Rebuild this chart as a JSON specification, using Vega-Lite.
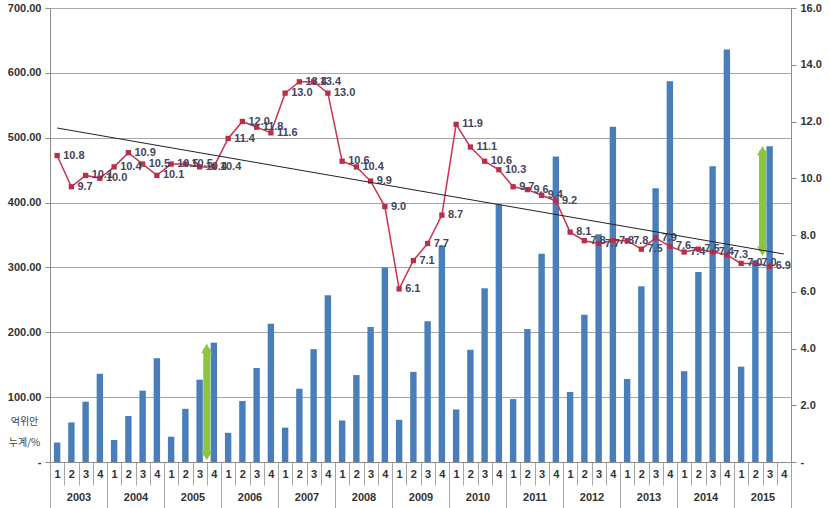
{
  "$schema": "https://vega.github.io/schema/vega-lite/v6.json",
  "width": 741,
  "height": 454,
  "autosize": {"type": "none"},
  "padding": {"left": 50, "top": 8, "right": 39, "bottom": 46},
  "background": "white",
  "config": {
    "view": {"stroke": null},
    "axis": {"labelFont": "Liberation Sans", "labelFontWeight": "bold", "labelFontSize": 11, "labelColor": "#333333", "domainColor": "#8c8c8c", "tickColor": "#8c8c8c", "gridColor": "#a6a6a6"}
  },
  "datasets": {
    "main": [
      {"q": "2003-1", "year": 2003, "amount": 30, "pct": 10.8},
      {"q": "2003-2", "year": 2003, "amount": 61, "pct": 9.7},
      {"q": "2003-3", "year": 2003, "amount": 93, "pct": 10.1},
      {"q": "2003-4", "year": 2003, "amount": 136, "pct": 10.0},
      {"q": "2004-1", "year": 2004, "amount": 34, "pct": 10.4},
      {"q": "2004-2", "year": 2004, "amount": 71, "pct": 10.9},
      {"q": "2004-3", "year": 2004, "amount": 110, "pct": 10.5},
      {"q": "2004-4", "year": 2004, "amount": 160, "pct": 10.1},
      {"q": "2005-1", "year": 2005, "amount": 39, "pct": 10.5},
      {"q": "2005-2", "year": 2005, "amount": 82, "pct": 10.5},
      {"q": "2005-3", "year": 2005, "amount": 127, "pct": 10.4},
      {"q": "2005-4", "year": 2005, "amount": 184, "pct": 10.4},
      {"q": "2006-1", "year": 2006, "amount": 45, "pct": 11.4},
      {"q": "2006-2", "year": 2006, "amount": 94, "pct": 12.0},
      {"q": "2006-3", "year": 2006, "amount": 145, "pct": 11.8},
      {"q": "2006-4", "year": 2006, "amount": 213, "pct": 11.6},
      {"q": "2007-1", "year": 2007, "amount": 53, "pct": 13.0},
      {"q": "2007-2", "year": 2007, "amount": 113, "pct": 13.4},
      {"q": "2007-3", "year": 2007, "amount": 174, "pct": 13.4},
      {"q": "2007-4", "year": 2007, "amount": 257, "pct": 13.0},
      {"q": "2008-1", "year": 2008, "amount": 64, "pct": 10.6},
      {"q": "2008-2", "year": 2008, "amount": 134, "pct": 10.4},
      {"q": "2008-3", "year": 2008, "amount": 208, "pct": 9.9},
      {"q": "2008-4", "year": 2008, "amount": 300, "pct": 9.0},
      {"q": "2009-1", "year": 2009, "amount": 65, "pct": 6.1},
      {"q": "2009-2", "year": 2009, "amount": 139, "pct": 7.1},
      {"q": "2009-3", "year": 2009, "amount": 217, "pct": 7.7},
      {"q": "2009-4", "year": 2009, "amount": 334, "pct": 8.7},
      {"q": "2010-1", "year": 2010, "amount": 81, "pct": 11.9},
      {"q": "2010-2", "year": 2010, "amount": 173, "pct": 11.1},
      {"q": "2010-3", "year": 2010, "amount": 268, "pct": 10.6},
      {"q": "2010-4", "year": 2010, "amount": 397, "pct": 10.3},
      {"q": "2011-1", "year": 2011, "amount": 97, "pct": 9.7},
      {"q": "2011-2", "year": 2011, "amount": 205, "pct": 9.6},
      {"q": "2011-3", "year": 2011, "amount": 321, "pct": 9.4},
      {"q": "2011-4", "year": 2011, "amount": 471, "pct": 9.2},
      {"q": "2012-1", "year": 2012, "amount": 108, "pct": 8.1},
      {"q": "2012-2", "year": 2012, "amount": 227, "pct": 7.8},
      {"q": "2012-3", "year": 2012, "amount": 351, "pct": 7.7},
      {"q": "2012-4", "year": 2012, "amount": 517, "pct": 7.8},
      {"q": "2013-1", "year": 2013, "amount": 128, "pct": 7.8},
      {"q": "2013-2", "year": 2013, "amount": 271, "pct": 7.5},
      {"q": "2013-3", "year": 2013, "amount": 422, "pct": 7.9},
      {"q": "2013-4", "year": 2013, "amount": 587, "pct": 7.6},
      {"q": "2014-1", "year": 2014, "amount": 140, "pct": 7.4},
      {"q": "2014-2", "year": 2014, "amount": 293, "pct": 7.5},
      {"q": "2014-3", "year": 2014, "amount": 456, "pct": 7.4},
      {"q": "2014-4", "year": 2014, "amount": 636, "pct": 7.3},
      {"q": "2015-1", "year": 2015, "amount": 147, "pct": 7.0},
      {"q": "2015-2", "year": 2015, "amount": 311, "pct": 7.0},
      {"q": "2015-3", "year": 2015, "amount": 487, "pct": 6.9},
      {"q": "2015-4", "year": 2015, "amount": null, "pct": null}
    ],
    "trend": [
      {"q": "2003-1", "trend": 11.77},
      {"q": "2015-4", "trend": 7.33}
    ],
    "arrows": [
      {"q": "2005-4", "lo": 10, "hi": 175},
      {"q": "2015-3", "lo": 325, "hi": 480}
    ]
  },
  "layer": [
    {
      "encoding": {
        "x": {
          "field": "q", "type": "ordinal", "title": null,
          "scale": {"paddingInner": 0, "paddingOuter": 0},
          "axis": {"labelAngle": 0, "tickBand": "extent", "tickSize": 23, "labelPadding": -11, "labelBaseline": "middle", "labelExpr": "split(datum.value, '-')[1]", "domainColor": "#8c8c8c", "tickColor": "#a6a6a6"}
        }
      },
      "layer": [
        {
          "encoding": {
            "y": {
              "field": "amount", "type": "quantitative",
              "scale": {"domain": [0, 700], "nice": false},
              "axis": {
                "orient": "left", "values": [0, 100, 200, 300, 400, 500, 600, 700], "grid": true, "tickSize": 5, "labelPadding": 4,
                "labelExpr": "datum.value == 0 ? '-' : format(datum.value, '.2f')",
                "title": ["억위안", "누계/%"], "titleAngle": 0, "titleX": -26, "titleY": 408, "titleAlign": "center", "titleBaseline": "top",
                "titleFont": "Noto Sans CJK KR", "titleFontSize": 10, "titleFontWeight": "normal", "titleLineHeight": 21, "titleColor": "#444444"
              }
            }
          },
          "layer": [
            {
              "data": {"name": "main"},
              "mark": {"type": "bar", "color": "#4a7ebb", "width": {"band": 0.45}}
            },
            {
              "data": {"name": "arrows"},
              "mark": {"type": "rule", "color": "#8cc63e", "strokeWidth": 7},
              "encoding": {
                "x": {"field": "q", "type": "ordinal", "bandPosition": 0, "title": null},
                "y": {"field": "lo", "type": "quantitative", "title": null},
                "y2": {"field": "hi"}
              }
            },
            {
              "data": {"name": "arrows"},
              "mark": {"type": "point", "shape": "triangle-up", "filled": true, "opacity": 1, "color": "#8cc63e", "size": 120},
              "encoding": {
                "x": {"field": "q", "type": "ordinal", "bandPosition": 0, "title": null},
                "y": {"field": "hi", "type": "quantitative", "title": null}
              }
            },
            {
              "data": {"name": "arrows"},
              "mark": {"type": "point", "shape": "triangle-down", "filled": true, "opacity": 1, "color": "#8cc63e", "size": 120},
              "encoding": {
                "x": {"field": "q", "type": "ordinal", "bandPosition": 0, "title": null},
                "y": {"field": "lo", "type": "quantitative", "title": null}
              }
            }
          ]
        },
        {
          "encoding": {
            "y": {
              "field": "pct", "type": "quantitative", "title": null,
              "scale": {"domain": [0, 16], "nice": false},
              "axis": {
                "orient": "right", "values": [0, 2, 4, 6, 8, 10, 12, 14, 16], "grid": false, "tickSize": 5, "labelPadding": 4,
                "labelExpr": "datum.value == 0 ? '-' : format(datum.value, '.1f')"
              }
            }
          },
          "layer": [
            {
              "data": {"name": "main"},
              "mark": {"type": "line", "color": "#cc3350", "strokeWidth": 1.5}
            },
            {
              "data": {"name": "main"},
              "mark": {"type": "point", "shape": "square", "filled": true, "opacity": 1, "color": "#b92e49", "size": 28}
            },
            {
              "data": {"name": "main"},
              "mark": {"type": "text", "align": "left", "baseline": "middle", "dx": 6, "font": "Liberation Sans", "fontWeight": "bold", "fontSize": 11, "color": "#45455f"},
              "encoding": {"text": {"field": "pct", "type": "quantitative", "format": ".1f"}}
            },
            {
              "data": {"name": "trend"},
              "mark": {"type": "line", "color": "#222222", "strokeWidth": 1},
              "encoding": {
                "y": {"field": "trend", "type": "quantitative", "title": null, "scale": {"domain": [0, 16], "nice": false}}
              }
            }
          ]
        }
      ],
      "resolve": {"scale": {"y": "independent"}}
    },
    {
      "data": {"name": "main"},
      "mark": {"type": "tick", "opacity": 0},
      "encoding": {
        "x": {
          "field": "year", "type": "ordinal", "title": null,
          "scale": {"paddingInner": 0, "paddingOuter": 0},
          "axis": {"orient": "bottom", "offset": 23, "domain": false, "labelAngle": 0, "tickBand": "extent", "tickSize": 23, "labelPadding": -11, "labelBaseline": "middle", "tickColor": "#a6a6a6"}
        }
      }
    }
  ],
  "resolve": {"scale": {"x": "independent"}}
}
